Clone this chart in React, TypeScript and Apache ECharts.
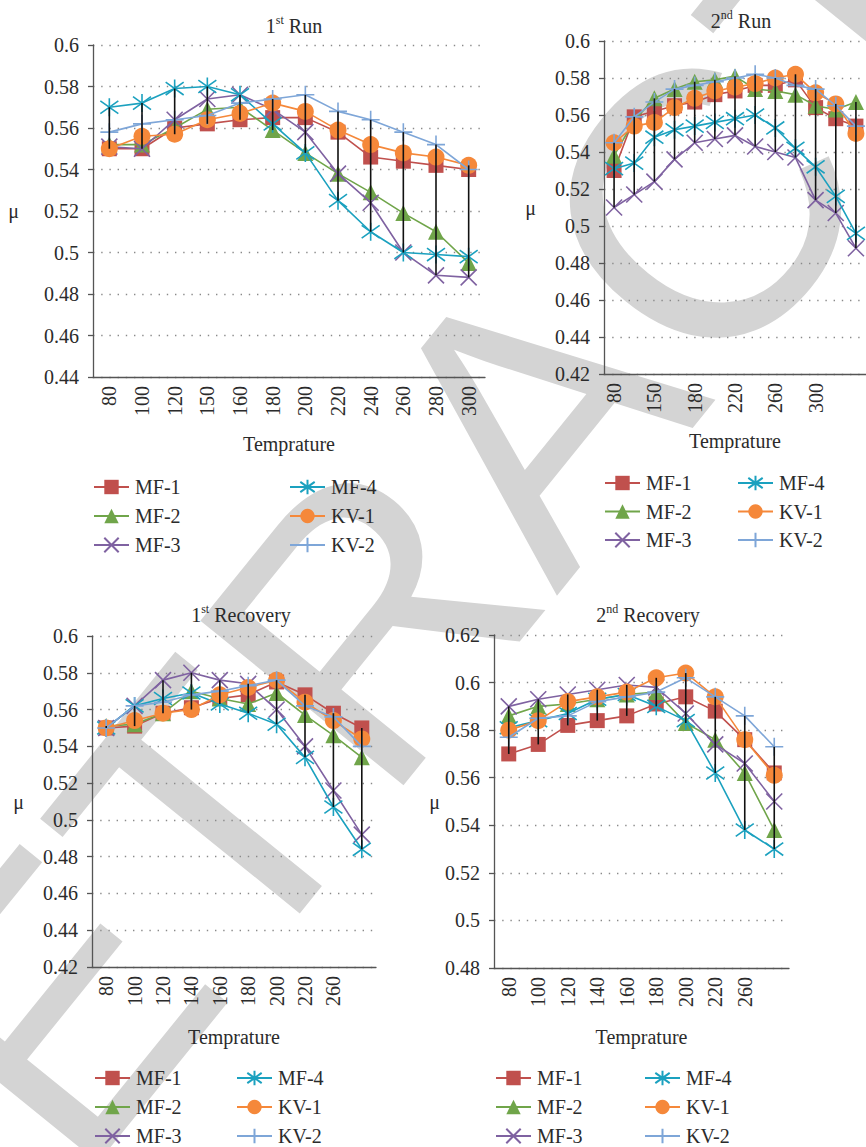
import React, { useEffect, useRef } from 'react';
import * as echarts from 'echarts';

// ---------- data ----------
const SERIES_NAMES = ['MF-1', 'MF-2', 'MF-3', 'MF-4', 'KV-1', 'KV-2'];

const RUN1_CATEGORIES = ['80', '100', '120', '150', '160', '180', '200', '220', '240', '260', '280', '300'];
const RUN1_MF1 = [0.550, 0.550, 0.560, 0.562, 0.564, 0.565, 0.565, 0.558, 0.546, 0.544, 0.542, 0.540];
const RUN1_MF2 = [0.552, 0.552, 0.560, 0.569, 0.570, 0.559, 0.548, 0.538, 0.529, 0.519, 0.510, 0.495];
const RUN1_MF3 = [0.551, 0.550, 0.564, 0.574, 0.576, 0.569, 0.558, 0.538, 0.524, 0.500, 0.489, 0.488];
const RUN1_MF4 = [0.570, 0.572, 0.579, 0.580, 0.576, 0.562, 0.548, 0.525, 0.510, 0.500, 0.499, 0.498];
const RUN1_KV1 = [0.550, 0.556, 0.557, 0.564, 0.567, 0.572, 0.568, 0.559, 0.552, 0.548, 0.546, 0.542];
const RUN1_KV2 = [0.558, 0.562, 0.564, 0.566, 0.572, 0.574, 0.576, 0.568, 0.564, 0.558, 0.552, 0.540];

const RUN2_CATEGORIES = ['80', '120', '150', '160', '180', '200', '220', '240', '260', '280', '300', '320', ''];
const RUN2_MF1 = [0.530, 0.559, 0.562, 0.565, 0.567, 0.571, 0.573, 0.576, 0.576, 0.579, 0.564, 0.558, 0.554];
const RUN2_MF2 = [0.538, 0.557, 0.569, 0.574, 0.578, 0.579, 0.581, 0.574, 0.573, 0.571, 0.565, 0.563, 0.567];
const RUN2_MF3 = [0.510, 0.517, 0.524, 0.536, 0.545, 0.547, 0.549, 0.543, 0.540, 0.537, 0.514, 0.507, 0.488];
const RUN2_MF4 = [0.531, 0.534, 0.548, 0.552, 0.554, 0.556, 0.558, 0.560, 0.553, 0.542, 0.532, 0.516, 0.496];
const RUN2_KV1 = [0.545, 0.554, 0.556, 0.564, 0.569, 0.573, 0.575, 0.577, 0.580, 0.582, 0.572, 0.566, 0.550];
const RUN2_KV2 = [0.545, 0.559, 0.567, 0.574, 0.576, 0.578, 0.580, 0.582, 0.580, 0.576, 0.574, 0.565, 0.554];

const REC_CATEGORIES = ['80', '100', '120', '140', '160', '180', '200', '220', '260', ''];
const REC1_MF1 = [0.550, 0.551, 0.558, 0.561, 0.566, 0.568, 0.575, 0.568, 0.558, 0.550];
const REC1_MF2 = [0.551, 0.552, 0.558, 0.570, 0.566, 0.563, 0.569, 0.557, 0.546, 0.534];
const REC1_MF3 = [0.550, 0.562, 0.576, 0.580, 0.576, 0.574, 0.560, 0.540, 0.516, 0.492];
const REC1_MF4 = [0.550, 0.562, 0.566, 0.569, 0.563, 0.558, 0.552, 0.534, 0.507, 0.484];
const REC1_KV1 = [0.550, 0.554, 0.558, 0.560, 0.568, 0.572, 0.576, 0.564, 0.554, 0.544];
const REC1_KV2 = [0.550, 0.562, 0.564, 0.568, 0.570, 0.573, 0.576, 0.562, 0.556, 0.540];

const REC2_MF1 = [0.570, 0.574, 0.582, 0.584, 0.586, 0.591, 0.594, 0.588, 0.576, 0.562];
const REC2_MF2 = [0.586, 0.590, 0.591, 0.593, 0.595, 0.596, 0.583, 0.576, 0.562, 0.538];
const REC2_MF3 = [0.590, 0.593, 0.595, 0.597, 0.599, 0.598, 0.587, 0.574, 0.566, 0.550];
const REC2_MF4 = [0.581, 0.584, 0.587, 0.593, 0.595, 0.590, 0.584, 0.562, 0.538, 0.530];
const REC2_KV1 = [0.580, 0.584, 0.592, 0.594, 0.596, 0.602, 0.604, 0.594, 0.576, 0.561];
const REC2_KV2 = [0.577, 0.585, 0.586, 0.592, 0.594, 0.596, 0.602, 0.594, 0.586, 0.573];

const X_NAME = 'Temprature';
const Y_NAME = 'μ';
const WATERMARK = 'RETRACTED';

// ---------- styles ----------
const FONT = '"Liberation Serif", "Times New Roman", serif';
const TEXT_COLOR = '#2b2b2b';
const AXIS_COLOR = '#555555';
const COLORS = ['#C0504D', '#70A54A', '#7F62A1', '#1BA1BF', '#F5883A', '#7EA6D8'];
const SYMBOLS = [
  'rect',
  'triangle',
  'path://M0,0L10,10M10,0L0,10',
  'path://M0,2L10,12M10,2L0,12M5,0L5,14',
  'circle',
  'path://M5,0L5,10M0,5L10,5',
];
const SYMBOL_SIZES = [15, 16, 16, 18, 17, 18];
const STROKED = [false, false, true, true, false, true];

const panels = [
  {
    num: '1', sup: 'st', word: 'Run',
    cats: RUN1_CATEGORIES,
    data: [RUN1_MF1, RUN1_MF2, RUN1_MF3, RUN1_MF4, RUN1_KV1, RUN1_KV2],
    grid: { left: 93, top: 45, width: 392, height: 332 },
    yMin: 0.44, yMax: 0.6, xInterval: 0,
    yNameGap: 74, xNameGap: 57,
    titleX: 289, titleY: 9,
    legendX: [93, 289], legendY: 477, legendGap: 9,
  },
  {
    num: '2', sup: 'nd', word: 'Run',
    cats: RUN2_CATEGORIES,
    data: [RUN2_MF1, RUN2_MF2, RUN2_MF3, RUN2_MF4, RUN2_KV1, RUN2_KV2],
    grid: { left: 604, top: 41, width: 265.5, height: 333 },
    yMin: 0.42, yMax: 0.6, xInterval: 1,
    yNameGap: 68, xNameGap: 57,
    titleX: 736, titleY: 4,
    legendX: [604, 737], legendY: 473, legendGap: 8.5,
  },
  {
    num: '1', sup: 'st', word: 'Recovery',
    cats: REC_CATEGORIES,
    data: [REC1_MF1, REC1_MF2, REC1_MF3, REC1_MF4, REC1_KV1, REC1_KV2],
    grid: { left: 92, top: 636, width: 284, height: 331 },
    yMin: 0.42, yMax: 0.6, xInterval: 0,
    yNameGap: 68, xNameGap: 60,
    titleX: 236, titleY: 598,
    legendX: [94, 236], legendY: 1068, legendGap: 9,
  },
  {
    num: '2', sup: 'nd', word: 'Recovery',
    cats: REC_CATEGORIES,
    data: [REC2_MF1, REC2_MF2, REC2_MF3, REC2_MF4, REC2_KV1, REC2_KV2],
    grid: { left: 494, top: 635, width: 295, height: 333 },
    yMin: 0.48, yMax: 0.62, xInterval: 0,
    yNameGap: 38, xNameGap: 59,
    titleX: 643, titleY: 598,
    legendX: [495, 644], legendY: 1068, legendGap: 9,
  },
];

function buildOption() {
  const title: any[] = [];
  const grid: any[] = [];
  const xAxis: any[] = [];
  const yAxis: any[] = [];
  const legend: any[] = [];
  const series: any[] = [];

  panels.forEach((p, k) => {
    title.push({
      text: `{n|${p.num}}{s|${p.sup}}{n| ${p.word}}`,
      left: p.titleX,
      top: p.titleY,
      textAlign: 'center',
      textStyle: {
        fontWeight: 'normal',
        fontFamily: FONT,
        rich: {
          n: { fontFamily: FONT, fontWeight: 'normal', fontSize: 20, color: TEXT_COLOR, lineHeight: 24 },
          s: { fontFamily: FONT, fontWeight: 'normal', fontSize: 12, color: TEXT_COLOR, verticalAlign: 'top', lineHeight: 14 },
        },
      },
    });
    grid.push({ ...p.grid });
    xAxis.push({
      type: 'category',
      gridIndex: k,
      data: p.cats,
      boundaryGap: true,
      axisLine: { show: true, lineStyle: { color: AXIS_COLOR, width: 1.3 } },
      axisTick: { show: false },
      axisLabel: {
        rotate: 90,
        interval: p.xInterval,
        margin: 9,
        fontFamily: FONT,
        fontSize: 20,
        color: TEXT_COLOR,
      },
      splitLine: { show: false },
      name: X_NAME,
      nameLocation: 'middle',
      nameGap: p.xNameGap,
      nameTextStyle: { fontFamily: FONT, fontSize: 20, color: TEXT_COLOR },
    });
    yAxis.push({
      type: 'value',
      gridIndex: k,
      min: p.yMin,
      max: p.yMax,
      interval: 0.02,
      axisLine: { show: true, lineStyle: { color: AXIS_COLOR, width: 1.3 } },
      axisTick: { show: true, length: 5, lineStyle: { color: AXIS_COLOR, width: 1.3 } },
      axisLabel: {
        margin: 14,
        fontFamily: FONT,
        fontSize: 20,
        color: TEXT_COLOR,
        formatter: (v: number) => String(parseFloat(v.toFixed(2))),
      },
      splitLine: { show: true, lineStyle: { color: '#8a8a8a', width: 1.3, type: [1.4, 6.8] } },
      name: Y_NAME,
      nameLocation: 'middle',
      nameRotate: 0,
      nameGap: p.yNameGap,
      nameTextStyle: { fontFamily: FONT, fontSize: 20, color: TEXT_COLOR },
    });
    [SERIES_NAMES.slice(0, 3), SERIES_NAMES.slice(3)].forEach((names, c) => {
      legend.push({
        data: names,
        orient: 'vertical',
        left: p.legendX[c],
        top: p.legendY,
        itemGap: p.legendGap,
        itemWidth: 35,
        itemHeight: 18,
        selectedMode: false,
        padding: 0,
        textStyle: { fontFamily: FONT, fontSize: 20, color: TEXT_COLOR, padding: [0, 0, 0, 1] },
      });
    });
    p.data.forEach((arr, s) => {
      series.push({
        type: 'line',
        name: SERIES_NAMES[s],
        xAxisIndex: k,
        yAxisIndex: k,
        data: arr,
        symbol: SYMBOLS[s],
        symbolSize: SYMBOL_SIZES[s],
        showAllSymbol: true,
        lineStyle: { color: COLORS[s], width: 1.6 },
        itemStyle: {
          color: COLORS[s],
          borderColor: COLORS[s],
          borderWidth: STROKED[s] ? 1.6 : 0,
          opacity: 1,
        },
        emphasis: { disabled: true },
        z: 3 + s * 0.1,
      });
    });
    // high-low lines: from min to max of all six series at each category
    const hl = p.cats.map((_, i) => {
      const vals = p.data.map((a) => a[i]);
      return [i, Math.min(...vals), Math.max(...vals)];
    });
    series.push({
      type: 'custom',
      xAxisIndex: k,
      yAxisIndex: k,
      data: hl,
      encode: { x: 0, y: [1, 2] },
      z: 10,
      silent: true,
      renderItem: (params: any, api: any) => {
        const i = api.value(0);
        const lo = api.coord([i, api.value(1)]);
        const hi = api.coord([i, api.value(2)]);
        return {
          type: 'line',
          shape: { x1: lo[0], y1: lo[1], x2: hi[0], y2: hi[1] },
          style: { stroke: '#111111', lineWidth: 1.6 },
        };
      },
    });
  });

  return {
    animation: false,
    backgroundColor: '#ffffff',
    title,
    grid,
    xAxis,
    yAxis,
    legend,
    series,
    graphic: [
      {
        type: 'text',
        x: 534,
        y: 415,
        rotation: (51 * Math.PI) / 180,
        z: -100,
        silent: true,
        style: {
          text: WATERMARK,
          fontFamily: '"Liberation Sans", Arial, sans-serif',
          fontSize: 380,
          fill: '#d4d4d4',
          align: 'center',
          verticalAlign: 'middle',
          textAlign: 'center',
          textVerticalAlign: 'middle',
        },
      },
    ],
  };
}

export default function App() {
  const ref = useRef<HTMLDivElement>(null);
  useEffect(() => {
    if (!ref.current) return;
    const chart = echarts.init(ref.current, undefined, { renderer: 'svg' });
    chart.setOption(buildOption() as any);
    return () => chart.dispose();
  }, []);
  return (
    <div
      ref={ref}
      style={{ position: 'absolute', left: 0, top: 0, width: 866, height: 1147, background: '#fff' }}
    />
  );
}
